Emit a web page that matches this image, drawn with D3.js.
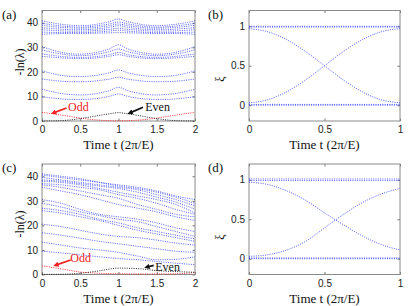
<!DOCTYPE html>
<html>
<head>
<meta charset="utf-8">
<script src="https://cdn.jsdelivr.net/npm/d3@7"></script>
<style>
  body { margin: 0; background: #fff; }
  svg { display: block; }
</style>
</head>
<body>
<script>
// ---- data ----

// panels (a)/(c): time grid and levels of -ln(lambda)
const tA = [0, 0.125, 0.25, 0.375, 0.5, 0.625, 0.75, 0.875, 1, 1.125, 1.25, 1.375, 1.5, 1.625, 1.75, 1.875, 2];
const tC = [0, 0.25, 0.5, 0.75, 1, 1.25, 1.5, 1.75, 2];
// panels (b)/(d): time grid for xi
const tB = [0, 0.125, 0.25, 0.375, 0.5, 0.625, 0.75, 0.875, 1];

const aBlue = [
  [9.9, 9.4, 9.0, 8.8, 8.8, 8.9, 9.3, 10.0, 11.0, 10.0, 9.3, 8.9, 8.8, 8.8, 9.0, 9.4, 9.9],
  [12.9, 12.0, 11.2, 10.8, 10.6, 10.8, 11.4, 12.3, 13.7, 12.3, 11.4, 10.8, 10.6, 10.8, 11.2, 12.0, 12.9],
  [17.1, 16.6, 16.2, 16.0, 16.0, 16.1, 16.5, 17.0, 17.8, 17.0, 16.5, 16.1, 16.0, 16.0, 16.2, 16.6, 17.1],
  [20.4, 19.4, 18.6, 18.2, 18.1, 18.3, 18.8, 19.6, 20.8, 19.6, 18.8, 18.3, 18.1, 18.2, 18.6, 19.4, 20.4],
  [26.3, 26.0, 25.7, 25.5, 25.4, 25.5, 25.8, 26.3, 27.0, 26.3, 25.8, 25.5, 25.4, 25.5, 25.7, 26.0, 26.3],
  [27.3, 26.8, 26.3, 26.0, 25.9, 26.0, 26.4, 27.0, 27.9, 27.0, 26.4, 26.0, 25.9, 26.0, 26.3, 26.8, 27.3],
  [29.0, 28.0, 27.3, 26.8, 26.6, 26.8, 27.4, 28.2, 29.3, 28.2, 27.4, 26.8, 26.6, 26.8, 27.3, 28.0, 29.0],
  [30.3, 29.0, 28.0, 27.4, 27.2, 27.5, 28.2, 29.3, 31.0, 29.3, 28.2, 27.5, 27.2, 27.4, 28.0, 29.0, 30.3],
  [35.3, 35.5, 35.6, 35.7, 35.6, 35.7, 35.8, 35.9, 36.0, 35.9, 35.8, 35.7, 35.6, 35.7, 35.6, 35.5, 35.3],
  [36.2, 36.1, 36.0, 36.0, 36.0, 36.1, 36.3, 36.6, 37.0, 36.6, 36.3, 36.1, 36.0, 36.0, 36.0, 36.1, 36.2],
  [37.2, 36.9, 36.7, 36.6, 36.6, 36.7, 37.0, 37.3, 37.8, 37.3, 37.0, 36.7, 36.6, 36.6, 36.7, 36.9, 37.2],
  [38.0, 37.7, 37.4, 37.2, 37.2, 37.3, 37.6, 38.1, 38.8, 38.1, 37.6, 37.3, 37.2, 37.2, 37.4, 37.7, 38.0],
  [39.0, 38.5, 38.1, 37.9, 37.8, 37.9, 38.3, 38.8, 39.5, 38.8, 38.3, 37.9, 37.8, 37.9, 38.1, 38.5, 39.0],
  [39.8, 39.2, 38.7, 38.4, 38.2, 38.4, 38.9, 39.5, 40.3, 39.5, 38.9, 38.4, 38.2, 38.4, 38.7, 39.2, 39.8],
  [40.8, 40.0, 39.4, 39.0, 38.8, 39.0, 39.6, 40.4, 41.5, 40.4, 39.6, 39.0, 38.8, 39.0, 39.4, 40.0, 40.8]
];
const aOdd  = [3.5, 3.0, 2.4, 1.8, 1.2, 0.7, 0.35, 0.12, 0.05, 0.12, 0.35, 0.7, 1.2, 1.8, 2.4, 3.0, 3.5];
const aEven = [0.02, 0.05, 0.15, 0.45, 1.0, 1.6, 2.3, 2.9, 3.4, 2.9, 2.3, 1.6, 1.0, 0.45, 0.15, 0.05, 0.02];

const cBlue = [
  [9.5, 8.8, 8.0, 7.2, 6.5, 6.0, 5.3, 4.6, 4.0],
  [13.2, 12.0, 10.8, 10.0, 9.0, 7.5, 6.0, 6.2, 7.2],
  [17.0, 16.0, 14.8, 13.5, 12.5, 11.5, 10.5, 9.5, 9.0],
  [20.5, 19.5, 18.0, 16.5, 15.5, 15.0, 14.0, 12.8, 12.0],
  [26.0, 25.0, 23.5, 22.0, 20.0, 18.0, 16.5, 15.0, 13.5],
  [27.0, 26.0, 24.5, 22.5, 21.0, 19.0, 17.5, 16.0, 14.5],
  [29.0, 27.5, 25.5, 24.0, 22.5, 21.5, 19.5, 17.5, 15.5],
  [30.5, 29.0, 26.5, 24.5, 23.5, 22.5, 21.0, 19.0, 17.5],
  [35.5, 34.0, 32.5, 30.5, 28.5, 27.0, 25.5, 23.5, 22.0],
  [36.5, 35.5, 34.0, 32.5, 31.0, 28.5, 26.5, 24.5, 23.5],
  [37.0, 36.5, 35.5, 34.5, 32.5, 31.0, 29.0, 26.5, 24.5],
  [38.0, 37.5, 36.5, 35.0, 33.5, 32.0, 30.5, 28.5, 25.0],
  [38.5, 38.0, 37.0, 36.0, 35.0, 33.5, 31.5, 29.5, 26.5],
  [39.5, 38.5, 37.5, 36.5, 35.5, 34.5, 32.5, 30.5, 28.0],
  [40.5, 39.5, 38.5, 37.5, 36.0, 35.0, 33.5, 31.5, 29.0],
  [41.0, 40.0, 39.0, 37.5, 36.5, 35.5, 34.0, 32.0, 30.5]
];
const cOdd  = [3.5, 2.3, 1.0, 0.5, 0.3, 0.2, 0.2, 0.3, 0.8];
const cEven = [0.05, 0.1, 0.5, 1.5, 2.6, 2.4, 1.6, 1.2, 0.9];

const bXi = [
  [1.0, 1.0, 1.0, 1.0, 1.0, 1.0, 1.0, 1.0, 1.0],
  [0.99, 0.99, 0.99, 0.99, 0.99, 0.99, 0.99, 0.99, 0.99],
  [0.97, 0.93, 0.83, 0.68, 0.50, 0.32, 0.17, 0.07, 0.03],
  [0.03, 0.07, 0.17, 0.32, 0.50, 0.68, 0.83, 0.93, 0.97],
  [0.01, 0.01, 0.01, 0.01, 0.01, 0.01, 0.01, 0.01, 0.01],
  [0.0, 0.0, 0.0, 0.0, 0.0, 0.0, 0.0, 0.0, 0.0]
];
const dXi = [
  [1.01, 1.01, 1.01, 1.01, 1.01, 1.01, 1.01, 1.01, 1.01],
  [0.99, 0.99, 0.99, 0.99, 0.99, 0.99, 0.99, 0.99, 0.99],
  [0.97, 0.94, 0.86, 0.74, 0.58, 0.43, 0.29, 0.18, 0.11],
  [0.03, 0.05, 0.11, 0.22, 0.39, 0.56, 0.71, 0.82, 0.89],
  [0.01, 0.01, 0.01, 0.01, 0.01, 0.01, 0.01, 0.01, 0.01],
  [0.0, 0.0, 0.0, 0.0, 0.0, 0.0, 0.0, 0.0, 0.0]
];

const ticksT2 = [0, 0.5, 1, 1.5, 2];
const ticksT1 = [0, 0.5, 1];
const ticksLn = [0, 10, 20, 30, 40];
const ticksXi = [0, 0.5, 1];

const xLabel = "Time t (2\u03c0/E)";

// ---- drawing ----
const svg = d3.select("body").append("svg")
    .attr("width", 415)
    .attr("height", 306);

const serif = "'Liberation Serif', 'Times New Roman', serif";
const sans = "'Liberation Sans', Arial, sans-serif";

svg.append("defs").selectAll("marker")
    .data([["red", "#ee2222"], ["black", "#111"]])
    .enter().append("marker")
    .attr("id", d => "arr-" + d[0])
    .attr("viewBox", "0 0 10 10")
    .attr("refX", 5).attr("refY", 5)
    .attr("markerWidth", 3).attr("markerHeight", 3)
    .attr("orient", "auto")
    .append("path")
    .attr("d", "M0,0 L10,5 L0,10 z")
    .attr("fill", d => d[1]);

/** draws one panel: frame, ticks, labels and the dotted curves */
function panel(p) {
    const x = d3.scaleLinear().domain(p.xDomain).range([p.left, p.right]);
    const y = d3.scaleLinear().domain(p.yDomain).range([p.bottom, p.top]);
    const g = svg.append("g");

    // axes, ticks pointing inwards
    const fmt = d3.format("");
    g.append("g").attr("transform", `translate(0,${p.bottom})`)
        .call(d3.axisBottom(x).tickValues(p.xTicks).tickFormat(fmt).tickSizeInner(-2.5).tickSizeOuter(0).tickPadding(5));
    g.append("g").attr("transform", `translate(0,${p.top})`)
        .call(d3.axisTop(x).tickValues(p.xTicks).tickFormat("").tickSizeInner(-2.5).tickSizeOuter(0));
    g.append("g").attr("transform", `translate(${p.left},0)`)
        .call(d3.axisLeft(y).tickValues(p.yTicks).tickFormat(fmt).tickSizeInner(-2.5).tickSizeOuter(0).tickPadding(4));
    g.append("g").attr("transform", `translate(${p.right},0)`)
        .call(d3.axisRight(y).tickValues(p.yTicks).tickFormat("").tickSizeInner(-2.5).tickSizeOuter(0));
    g.selectAll(".domain").remove();
    g.selectAll(".tick line").attr("stroke", "#777");
    g.selectAll(".tick text").attr("font-family", sans).attr("font-size", 10).attr("fill", "#222");

    g.append("rect")
        .attr("x", p.left).attr("y", p.top)
        .attr("width", p.right - p.left).attr("height", p.bottom - p.top)
        .attr("fill", "none").attr("stroke", "#8a8a8a").attr("stroke-width", 1);

    const line = d3.line()
        .x((d, i) => x(p.t[i]))
        .y(d => y(d))
        .curve(d3.curveMonotoneX);

    const curves = g.append("g");
    curves.selectAll("path.blue")
        .data(p.blue)
        .enter().append("path")
        .attr("class", "blue")
        .attr("d", line)
        .attr("fill", "none")
        .attr("stroke", "#1f2dff")
        .attr("stroke-opacity", 0.85)
        .attr("stroke-width", 0.9)
        .attr("stroke-dasharray", "1,1.3");

    if (p.odd) {
        curves.append("path").attr("d", line(p.odd))
            .attr("fill", "none").attr("stroke", "#ff1a1a")
            .attr("stroke-width", 0.9).attr("stroke-dasharray", "1,1.3");
        curves.append("path").attr("d", line(p.even))
            .attr("fill", "none").attr("stroke", "#111")
            .attr("stroke-width", 0.9).attr("stroke-dasharray", "1,1.3");
    }

    // annotations
    (p.notes || []).forEach(n => {
        g.append("line")
            .attr("x1", x(n.from[0])).attr("y1", y(n.from[1]))
            .attr("x2", x(n.to[0])).attr("y2", y(n.to[1]))
            .attr("stroke", n.color).attr("stroke-width", 1.8)
            .attr("marker-end", `url(#arr-${n.key})`);
        g.append("text")
            .attr("x", x(n.at[0])).attr("y", y(n.at[1]))
            .attr("font-family", serif).attr("font-size", 12)
            .attr("fill", n.color)
            .text(n.text);
    });

    // axis titles
    g.append("text")
        .attr("x", (p.left + p.right) / 2).attr("y", p.bottom + 28)
        .attr("text-anchor", "middle")
        .attr("font-family", serif).attr("font-size", 13)
        .attr("fill", "#111")
        .text(xLabel);
    g.append("text")
        .attr("transform", `translate(${p.yLabelX},${p.yLabelY}) rotate(-90)`)
        .attr("text-anchor", "middle")
        .attr("font-family", serif).attr("font-size", 12)
        .attr("fill", "#111")
        .text(p.yLabel);

    g.append("text")
        .attr("x", p.tagX).attr("y", p.top + 8)
        .attr("font-family", serif).attr("font-size", 13)
        .attr("fill", "#111")
        .text(p.tag);
}

panel({
    tag: "(a)", tagX: 2, left: 42, right: 195, top: 10.5, bottom: 121,
    xDomain: [0, 2], yDomain: [0, 45], xTicks: ticksT2, yTicks: ticksLn,
    t: tA, blue: aBlue, odd: aOdd, even: aEven,
    yLabel: "-ln(\u03bb)", yLabelX: 24, yLabelY: 62,
    notes: [
        { key: "red", color: "#ee2222", from: [0.32, 5.3], to: [0.15, 3.3], at: [0.34, 4.0], text: "Odd" },
        { key: "black", color: "#111", from: [1.32, 5.6], to: [1.15, 3.3], at: [1.35, 4.0], text: "Even" }
    ]
});

panel({
    tag: "(b)", tagX: 208, left: 249, right: 400, top: 10.5, bottom: 121,
    xDomain: [0, 1], yDomain: [-0.2, 1.2], xTicks: ticksT1, yTicks: ticksXi,
    t: tB, blue: bXi,
    yLabel: "\u03be", yLabelX: 224, yLabelY: 79
});

panel({
    tag: "(c)", tagX: 2, left: 42, right: 195, top: 164, bottom: 274.5,
    xDomain: [0, 2], yDomain: [0, 45], xTicks: ticksT2, yTicks: ticksLn,
    t: tC, blue: cBlue, odd: cOdd, even: cEven,
    yLabel: "-ln(\u03bb)", yLabelX: 24, yLabelY: 224,
    notes: [
        { key: "red", color: "#ee2222", from: [0.375, 5.9], to: [0.18, 3.8], at: [0.37, 4.9], text: "Odd" },
        { key: "black", color: "#111", from: [1.46, 3.7], to: [1.37, 3.0], at: [1.48, 1.4], text: "Even" }
    ]
});

panel({
    tag: "(d)", tagX: 208, left: 249, right: 400, top: 164, bottom: 274.5,
    xDomain: [0, 1], yDomain: [-0.2, 1.2], xTicks: ticksT1, yTicks: ticksXi,
    t: tB, blue: dXi,
    yLabel: "\u03be", yLabelX: 224, yLabelY: 237
});
</script>
</body>
</html>
